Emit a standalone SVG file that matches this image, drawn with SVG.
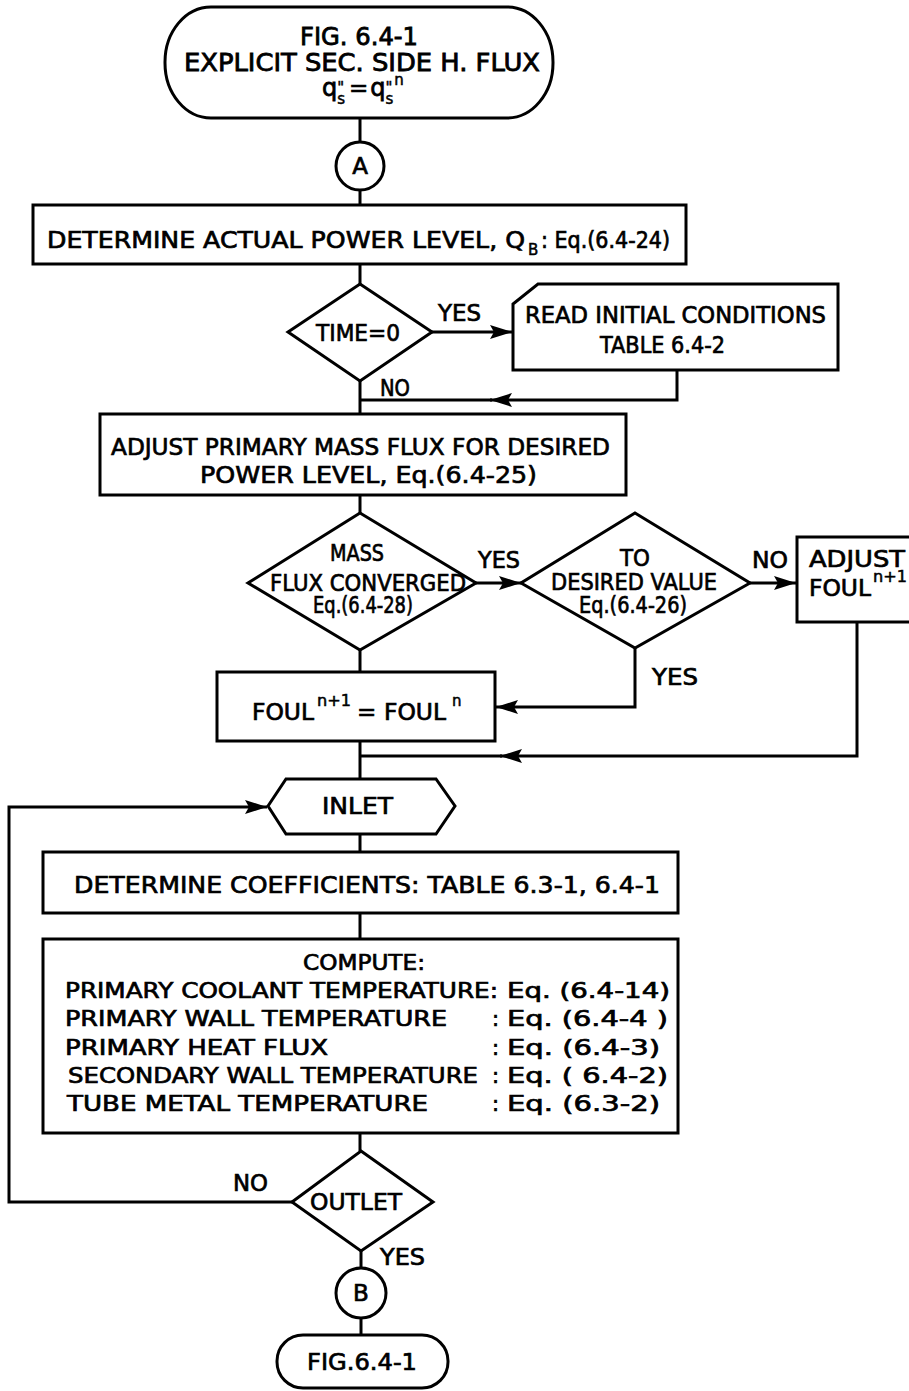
<svg xmlns="http://www.w3.org/2000/svg" width="909" height="1391" viewBox="0 0 909 1391">
  <style>
    .shape { fill: #fff; stroke: #000; stroke-width: 3; stroke-linejoin: miter; }
    .wire { fill: none; stroke: #000; stroke-width: 3; }
    .t, .tl, .tc, .ts { font-family: "DejaVu Sans", "Liberation Sans", sans-serif; fill: #000; stroke: #000; }
    .t { font-size: 23px; stroke-width: 0.7; }
    .tl { font-size: 24px; stroke-width: 0.8; }
    .tc { font-size: 21px; stroke-width: 0.7; }
    .ts { font-size: 15px; stroke-width: 0.5; }
    .tm { text-anchor: middle; }
  </style>
  <defs>
    <marker id="ah" markerUnits="userSpaceOnUse" markerWidth="24" markerHeight="14" refX="22" refY="7" orient="auto">
      <path d="M0,0 L22,7 L0,14 L4,7 Z" fill="#000"/>
    </marker>
  </defs>

  <rect width="909" height="1391" fill="#fff"/>

  <!-- connectors -->
  <g id="connectors" class="wire">
    <line x1="360" y1="118" x2="360" y2="142"/>
    <line x1="360" y1="190" x2="360" y2="205"/>
    <line x1="360" y1="264" x2="360" y2="284"/>
    <line x1="432" y1="332" x2="512" y2="332" marker-end="url(#ah)"/>
    <path d="M677,370 V400 H490" marker-end="url(#ah)"/>
    <line x1="492" y1="400" x2="360" y2="400"/>
    <line x1="360" y1="381" x2="360" y2="414"/>
    <line x1="360" y1="495" x2="360" y2="513"/>
    <line x1="476" y1="583" x2="521" y2="583" marker-end="url(#ah)"/>
    <line x1="750" y1="583" x2="796" y2="583" marker-end="url(#ah)"/>
    <path d="M635,648 V707 H496" marker-end="url(#ah)"/>
    <line x1="360" y1="650" x2="360" y2="672"/>
    <line x1="360" y1="741" x2="360" y2="779"/>
    <path d="M857,622 V756 H500" marker-end="url(#ah)"/>
    <line x1="502" y1="756" x2="360" y2="756"/>
    <line x1="360" y1="834" x2="360" y2="852"/>
    <line x1="360" y1="913" x2="360" y2="939"/>
    <line x1="360" y1="1133" x2="360" y2="1151"/>
    <path d="M292,1202 H9 V807 H267" marker-end="url(#ah)"/>
    <line x1="361" y1="1251" x2="361" y2="1268"/>
    <line x1="361" y1="1318" x2="361" y2="1335"/>
  </g>

  <!-- entry terminator -->
  <g id="start">
    <rect class="shape" x="165" y="7" width="388" height="111" rx="46" ry="55"/>
    <text class="tl" x="300" y="45" textLength="118" lengthAdjust="spacingAndGlyphs">FIG. 6.4-1</text>
    <text class="tl" x="184" y="71" textLength="356" lengthAdjust="spacingAndGlyphs">EXPLICIT SEC. SIDE H. FLUX</text>
    <!-- q''_s = q''_s^n : stacked primes and subscripts via tspans -->
    <text class="tl" x="322" y="96">q<tspan class="ts" dy="-3">"</tspan><tspan class="ts" dx="-7" dy="11">s</tspan><tspan class="t" dx="4" dy="-8">=</tspan><tspan dx="2">q</tspan><tspan class="ts" dy="-3">"</tspan><tspan class="ts" dx="-7" dy="11">s</tspan><tspan class="ts" dx="1" dy="-19">n</tspan></text>
  </g>

  <!-- connector A -->
  <g id="connA">
    <circle class="shape" cx="360" cy="166" r="24"/>
    <text class="t tm" x="360" y="174">A</text>
  </g>

  <g id="powerLevel">
    <rect class="shape" x="33" y="205" width="653" height="59"/>
    <text class="t" x="47" y="248" textLength="478" lengthAdjust="spacingAndGlyphs">DETERMINE ACTUAL POWER LEVEL, Q</text>
    <text class="ts" x="528" y="255">B</text>
    <text class="t" x="541" y="248" textLength="129" lengthAdjust="spacingAndGlyphs">: Eq.(6.4-24)</text>
  </g>

  <g id="timeZero">
    <polygon class="shape" points="360,284 432,332 360,381 288,332"/>
    <text class="t" x="316" y="341" textLength="84" lengthAdjust="spacingAndGlyphs">TIME=0</text>
    <text class="t" x="438" y="321" textLength="43" lengthAdjust="spacingAndGlyphs">YES</text>
    <text class="t" x="380" y="396" textLength="30" lengthAdjust="spacingAndGlyphs">NO</text>
  </g>

  <g id="readInit">
    <polygon class="shape" points="538,284 838,284 838,370 513,370 513,304"/>
    <text class="t" x="525" y="323" textLength="301" lengthAdjust="spacingAndGlyphs">READ INITIAL CONDITIONS</text>
    <text class="t" x="600" y="353" textLength="125" lengthAdjust="spacingAndGlyphs">TABLE 6.4-2</text>
  </g>

  <g id="adjustMassFlux">
    <rect class="shape" x="100" y="414" width="526" height="81"/>
    <text class="t" x="111" y="455" textLength="499" lengthAdjust="spacingAndGlyphs">ADJUST PRIMARY MASS FLUX FOR DESIRED</text>
    <text class="t" x="200" y="483" textLength="337" lengthAdjust="spacingAndGlyphs">POWER LEVEL, Eq.(6.4-25)</text>
  </g>

  <g id="massConverged">
    <polygon class="shape" points="360,513 476,583 360,650 248,583"/>
    <text class="t" x="330" y="561" textLength="54" lengthAdjust="spacingAndGlyphs">MASS</text>
    <text class="t" x="270" y="591" textLength="196" lengthAdjust="spacingAndGlyphs">FLUX CONVERGED</text>
    <text class="t" x="313" y="613" textLength="100" lengthAdjust="spacingAndGlyphs">Eq.(6.4-28)</text>
    <text class="t" x="478" y="568" textLength="42" lengthAdjust="spacingAndGlyphs">YES</text>
  </g>

  <g id="desiredValue">
    <polygon class="shape" points="635,513 750,583 635,648 521,583"/>
    <text class="t" x="620" y="566" textLength="30" lengthAdjust="spacingAndGlyphs">TO</text>
    <text class="t" x="551" y="590" textLength="166" lengthAdjust="spacingAndGlyphs">DESIRED VALUE</text>
    <text class="t" x="579" y="613" textLength="108" lengthAdjust="spacingAndGlyphs">Eq.(6.4-26)</text>
    <text class="t" x="752" y="568" textLength="36" lengthAdjust="spacingAndGlyphs">NO</text>
    <text class="t" x="652" y="685" textLength="46" lengthAdjust="spacingAndGlyphs">YES</text>
  </g>

  <g id="adjustFoul">
    <rect class="shape" x="797" y="537" width="130" height="85"/>
    <text class="t" x="809" y="567" textLength="96" lengthAdjust="spacingAndGlyphs">ADJUST</text>
    <text class="t" x="809" y="596" textLength="62" lengthAdjust="spacingAndGlyphs">FOUL</text>
    <text class="ts" x="873" y="582" textLength="34" lengthAdjust="spacingAndGlyphs">n+1</text>
  </g>

  <g id="foulKeep">
    <rect class="shape" x="217" y="672" width="278" height="69"/>
    <text class="t" x="252" y="720" textLength="62" lengthAdjust="spacingAndGlyphs">FOUL</text>
    <text class="ts" x="317" y="706" textLength="34" lengthAdjust="spacingAndGlyphs">n+1</text>
    <text class="t" x="357" y="720">=</text>
    <text class="t" x="384" y="720" textLength="62" lengthAdjust="spacingAndGlyphs">FOUL</text>
    <text class="ts" x="452" y="706">n</text>
  </g>

  <g id="inlet">
    <polygon class="shape" points="268,806 286,779 436,779 455,806 436,834 286,834"/>
    <text class="t" x="322" y="814" textLength="71" lengthAdjust="spacingAndGlyphs">INLET</text>
  </g>

  <g id="coefficients">
    <rect class="shape" x="43" y="852" width="635" height="61"/>
    <text class="t" x="74" y="893" textLength="586" lengthAdjust="spacingAndGlyphs">DETERMINE COEFFICIENTS: TABLE 6.3-1, 6.4-1</text>
  </g>

  <g id="compute">
    <rect class="shape" x="43" y="939" width="635" height="194"/>
    <text class="tc" x="303" y="970" textLength="122" lengthAdjust="spacingAndGlyphs">COMPUTE:</text>
    <text class="tc" x="65" y="998" textLength="433" lengthAdjust="spacingAndGlyphs">PRIMARY COOLANT TEMPERATURE:</text>
    <text class="tc" x="507" y="998" textLength="163" lengthAdjust="spacingAndGlyphs">Eq. (6.4-14)</text>
    <text class="tc" x="65" y="1026" textLength="382" lengthAdjust="spacingAndGlyphs">PRIMARY WALL TEMPERATURE</text>
    <text class="tc" x="492" y="1026">:</text>
    <text class="tc" x="507" y="1026" textLength="161" lengthAdjust="spacingAndGlyphs">Eq. (6.4-4 )</text>
    <text class="tc" x="65" y="1055" textLength="263" lengthAdjust="spacingAndGlyphs">PRIMARY HEAT FLUX</text>
    <text class="tc" x="492" y="1055">:</text>
    <text class="tc" x="507" y="1055" textLength="153" lengthAdjust="spacingAndGlyphs">Eq. (6.4-3)</text>
    <text class="tc" x="68" y="1083" textLength="410" lengthAdjust="spacingAndGlyphs">SECONDARY WALL TEMPERATURE</text>
    <text class="tc" x="492" y="1083">:</text>
    <text class="tc" x="507" y="1083" textLength="161" lengthAdjust="spacingAndGlyphs">Eq. ( 6.4-2)</text>
    <text class="tc" x="67" y="1111" textLength="361" lengthAdjust="spacingAndGlyphs">TUBE METAL TEMPERATURE</text>
    <text class="tc" x="492" y="1111">:</text>
    <text class="tc" x="507" y="1111" textLength="153" lengthAdjust="spacingAndGlyphs">Eq. (6.3-2)</text>
  </g>

  <g id="outlet">
    <polygon class="shape" points="361,1151 433,1202 361,1251 292,1202"/>
    <text class="t" x="310" y="1210" textLength="92" lengthAdjust="spacingAndGlyphs">OUTLET</text>
    <text class="t" x="233" y="1191" textLength="35" lengthAdjust="spacingAndGlyphs">NO</text>
    <text class="t" x="380" y="1265" textLength="45" lengthAdjust="spacingAndGlyphs">YES</text>
  </g>

  <!-- connector B -->
  <g id="connB">
    <circle class="shape" cx="361" cy="1293" r="25"/>
    <text class="t tm" x="361" y="1301">B</text>
  </g>

  <!-- exit terminator -->
  <g id="end">
    <rect class="shape" x="277" y="1335" width="171" height="53" rx="26" ry="26"/>
    <text class="t" x="307" y="1370" textLength="110" lengthAdjust="spacingAndGlyphs">FIG.6.4-1</text>
  </g>
</svg>
